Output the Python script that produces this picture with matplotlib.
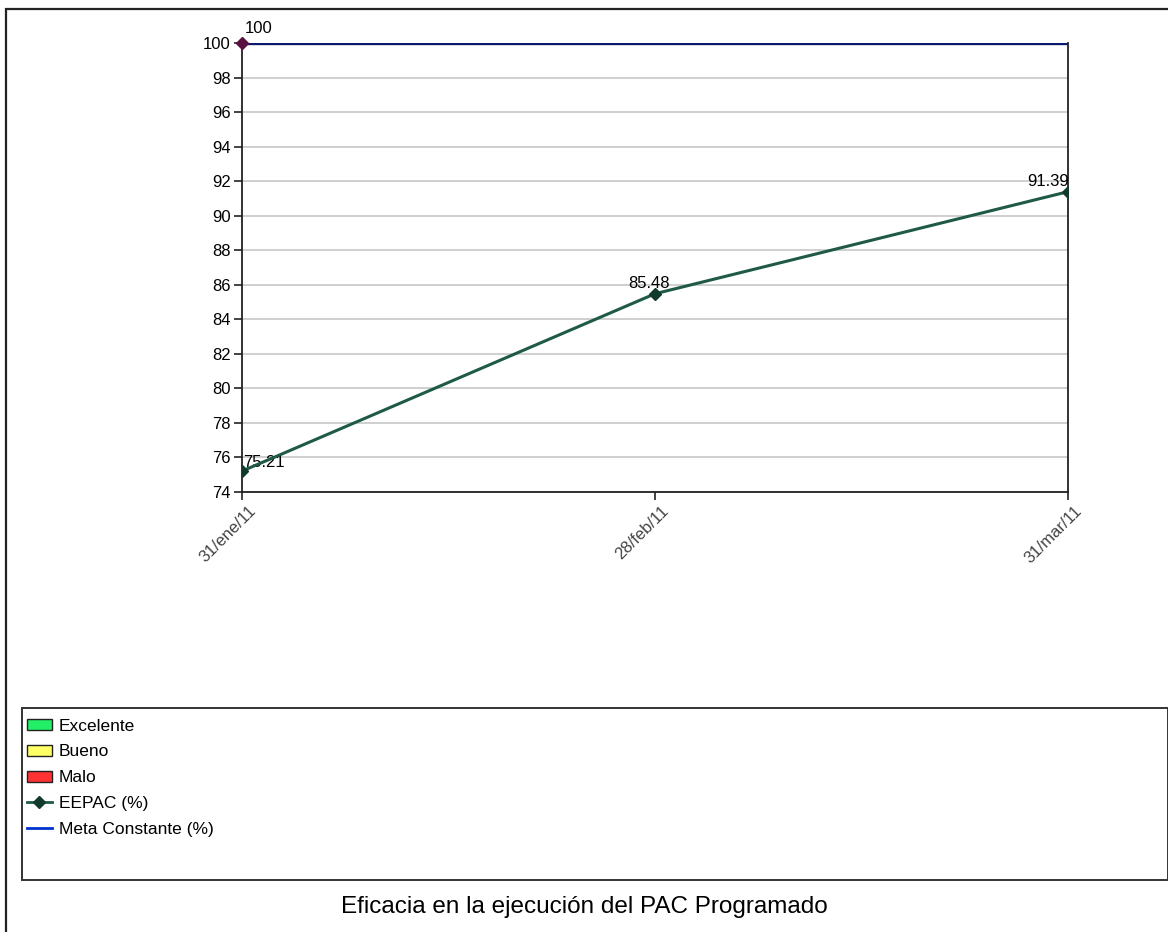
import matplotlib
matplotlib.use("Agg")
import matplotlib.pyplot as plt
from matplotlib.patches import Rectangle, Patch
from matplotlib.lines import Line2D
from matplotlib.transforms import ScaledTranslation

plt.rcParams['font.family'] = ['Liberation Sans', 'DejaVu Sans']

# Data
fechas = ["31/ene/11", "28/feb/11", "31/mar/11"]
eepac = [75.21, 85.48, 91.39]
meta = [100, 100, 100]
y_ticks = list(range(74, 101, 2))

W, H = 1168, 932
fig = plt.figure(figsize=(W / 100, H / 100), dpi=100)
fig.patch.set_facecolor("white")

def px(x0, y0, x1, y1):
    """Figure-fraction rect [l, b, w, h] from pixel box (top-left origin)."""
    return [x0 / W, 1 - y1 / H, (x1 - x0) / W, (y1 - y0) / H]

# Outer frame
fig.patches.append(Rectangle((6 / W, -0.1), 1.2, 1 - 9 / H + 0.1, transform=fig.transFigure,
                             fill=False, edgecolor="#222222", linewidth=1.6))

ax = fig.add_axes(px(242, 43, 1068, 492))
x = list(range(len(fechas)))

ax.plot(x, meta, color="#0a1a6e", linewidth=2.4, zorder=4)
ax.plot(x, eepac, color="#1f5a45", linewidth=2.2, marker="D", markersize=6,
        markerfacecolor="#123a2c", markeredgecolor="#123a2c", zorder=5)
ax.plot([x[0]], [meta[0]], marker="D", markersize=6, color="#5a1040", zorder=6, clip_on=False)

ax.set_xlim(0, 2)
ax.set_ylim(74, 100)
ax.set_yticks(y_ticks)
ax.set_yticklabels([str(v) for v in y_ticks])
ax.set_xticks(x)
ax.set_xticklabels(fechas, rotation=45, ha="right", va="top", rotation_mode="anchor", color="#444444")
ax.grid(axis="y", color="#cccccc", linewidth=1.3)
ax.set_axisbelow(True)
ax.tick_params(axis="both", direction="out", length=6, width=1.2, labelsize=12, color="#222222")
ax.tick_params(axis="y", pad=2)
ax.tick_params(axis="x", pad=2)
for s in ["left", "bottom", "right"]:
    ax.spines[s].set_color("#222222")
    ax.spines[s].set_linewidth(1.3)
ax.spines["top"].set_visible(False)
shift = ScaledTranslation(6 / 100, 0, fig.dpi_scale_trans)
for lbl in ax.get_xticklabels():
    lbl.set_transform(lbl.get_transform() + shift)

# Value labels
ax.annotate(f"{meta[0]:g}", (x[0], meta[0]), xytext=(2, 5), textcoords="offset points",
            ha="left", va="bottom", fontsize=12, annotation_clip=False)
ax.annotate(f"{eepac[0]:.2f}", (x[0], eepac[0]), xytext=(1, 1), textcoords="offset points",
            ha="left", va="bottom", fontsize=12)
ax.annotate(f"{eepac[1]:.2f}", (x[1], eepac[1]), xytext=(-4, 2), textcoords="offset points",
            ha="center", va="bottom", fontsize=12)
ax.annotate(f"{eepac[2]:.2f}", (x[2], eepac[2]), xytext=(1, 2), textcoords="offset points",
            ha="right", va="bottom", fontsize=12)

# Legend box
lx0, ly0, lx1, ly1 = 22, 708, 1168, 880
fig.patches.append(Rectangle((lx0 / W, 1 - ly1 / H), (lx1 - lx0) / W, (ly1 - ly0) / H,
                             transform=fig.transFigure, fill=False, edgecolor="#333333", linewidth=1.4))
handles = [
    Patch(facecolor="#22ee66", edgecolor="#222222", label="Excelente"),
    Patch(facecolor="#ffff66", edgecolor="#222222", label="Bueno"),
    Patch(facecolor="#ff3333", edgecolor="#222222", label="Malo"),
    Line2D([], [], color="#1f5a45", linewidth=2, marker="D", markersize=6,
           markerfacecolor="#123a2c", markeredgecolor="#123a2c", label="EEPAC (%)"),
    Line2D([], [], color="#0033cc", linewidth=2, label="Meta Constante (%)"),
]
fig.legend(handles=handles, loc="upper left", bbox_to_anchor=(25 / W, 1 - 717 / H),
           frameon=False, fontsize=12.5, handlelength=1.45, handleheight=0.6, handletextpad=0.4,
           labelspacing=0.62, borderpad=0.1, borderaxespad=0)

fig.text(0.5, 1 - 907 / H, "Eficacia en la ejecución del PAC Programado",
         ha="center", va="center", fontsize=17.5)

fig.savefig("out.png", dpi=100, facecolor="white")
